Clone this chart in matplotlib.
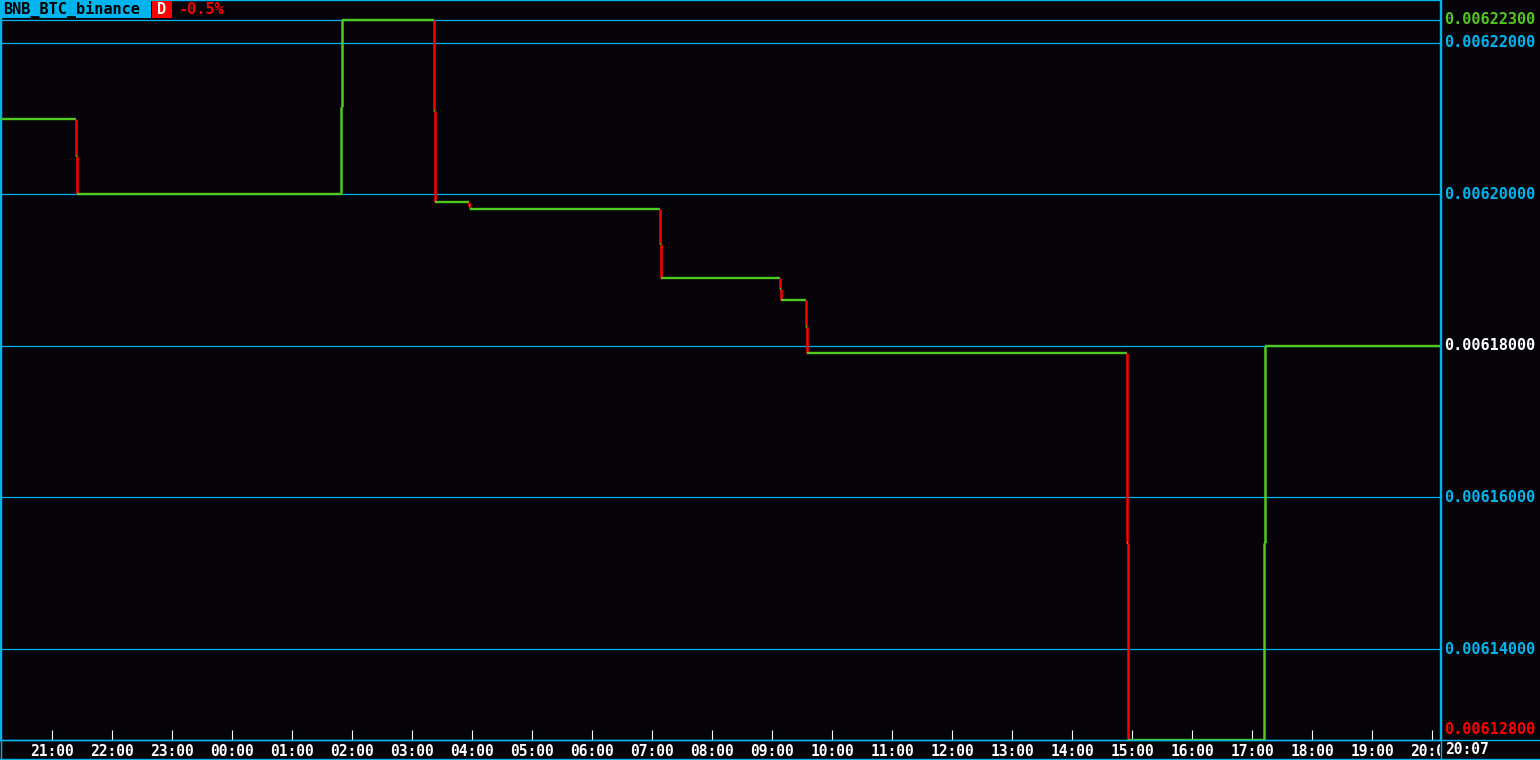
import pandas as pd
import matplotlib
matplotlib.use("Agg")
import matplotlib.pyplot as plt
import matplotlib.dates as mdates
from matplotlib.patches import Rectangle
from matplotlib.lines import Line2D
from matplotlib.transforms import Bbox

# price change points (time, price after the change)
times = ["2018-01-09 20:08", "2018-01-09 21:24", "2018-01-09 21:25",
         "2018-01-10 01:49", "2018-01-10 01:50", "2018-01-10 03:22",
         "2018-01-10 03:23", "2018-01-10 03:57", "2018-01-10 03:58",
         "2018-01-10 07:08", "2018-01-10 07:09", "2018-01-10 09:08",
         "2018-01-10 09:09", "2018-01-10 09:34", "2018-01-10 09:35",
         "2018-01-10 14:55", "2018-01-10 14:56", "2018-01-10 17:12",
         "2018-01-10 17:13", "2018-01-10 20:08"]
prices = [0.006210, 0.006205, 0.006200,
          0.0062115, 0.006223, 0.006211,
          0.006199, 0.0061985, 0.006198,
          0.0061935, 0.006189, 0.0061875,
          0.006186, 0.0061825, 0.006179,
          0.006154, 0.006128, 0.006154,
          0.006180, 0.006180]

grid_levels = [0.00622, 0.00620, 0.00618, 0.00616, 0.00614]
price_max = 0.006223
price_min = 0.006128
price_last = 0.006180
symbol = "BNB_BTC_binance"
change = "-0.5%"
last_time = "20:07"

BG = "#060408"
CYAN = "#00b4f0"
GREEN = "#50c81e"
RED = "#ff0000"
W, H = 1540, 760
MONO = "DejaVu Sans Mono"

t = pd.to_datetime(times)
x = mdates.date2num(t)

fig = plt.figure(figsize=(W / 100, H / 100), dpi=100, facecolor=BG)
ax = fig.add_axes([0, 20 / H, 1440 / W, 740 / H])
ax.set_facecolor(BG)

# grid / level lines
for lv in grid_levels + [price_max]:
    ax.axhline(lv, color=CYAN, lw=0.9, zorder=1)

# step line: horizontals green, verticals red (down) / green (up)
for i in range(len(x) - 1):
    ax.plot([x[i], x[i + 1]], [prices[i], prices[i]], color=GREEN, lw=1.7,
            solid_capstyle="butt", zorder=3)
    if prices[i + 1] != prices[i]:
        c = RED if prices[i + 1] < prices[i] else GREEN
        ax.plot([x[i + 1], x[i + 1]], [prices[i], prices[i + 1]], color=c,
                lw=1.8, solid_capstyle="butt", zorder=3)

ax.set_xlim(x[0], x[-1])
ax.set_ylim(price_min, price_min + 740 / 720 * (price_max - price_min))

ax.xaxis.set_major_locator(mdates.HourLocator())
ax.xaxis.set_major_formatter(mdates.DateFormatter("%H:%M"))
ax.tick_params(axis="x", direction="in", length=7, width=0.8, color="white",
               labelcolor="white", labelsize=10.5, pad=3)
ax.set_yticks([])
for s in ax.spines.values():
    s.set_color(CYAN)
    s.set_linewidth(1.0)

fig.canvas.draw()
clip = Bbox.from_extents(0, 0, 1440, H)
for lab in ax.get_xticklabels():
    lab.set_fontfamily(MONO)
    lab.set_fontweight("bold")
    lab.set_clip_box(clip)
    lab.set_clip_on(True)

# right-side price labels
def px_y(v):
    y0, y1 = ax.get_ylim()
    return 20 + (v - y0) / (y1 - y0) * 740

lab_x = 1444 / W
fig.text(lab_x, px_y(price_max) / H, f"{price_max:.8f}", color=GREEN,
         fontsize=11, family=MONO, weight="bold", va="center")
for lv in grid_levels:
    col = "white" if lv == price_last else CYAN
    fig.text(lab_x, px_y(lv) / H, f"{lv:.8f}", color=col,
             fontsize=11, family=MONO, weight="bold", va="center")
fig.text(lab_x, 30 / H, f"{price_min:.8f}", color=RED,
         fontsize=11, family=MONO, weight="bold", va="center")

# last time label in the corner
fig.add_artist(Rectangle((1441 / W, 1 / H), 99 / W, 18.5 / H, transform=fig.transFigure,
                         fc=BG, ec="none", zorder=4))
fig.text(1445 / W, 10 / H, last_time, color="white", fontsize=10.5,
         family=MONO, weight="bold", va="center", zorder=5)

# frame lines
fig.add_artist(Line2D([1440.5 / W, 1440.5 / W], [0, 1], color=CYAN, lw=1.0, zorder=6))
fig.add_artist(Line2D([0, 1], [20 / H, 20 / H], color=CYAN, lw=1.0, zorder=6))
fig.add_artist(Line2D([0, 1], [0.6 / H, 0.6 / H], color=CYAN, lw=1.0, zorder=6))
fig.add_artist(Line2D([0.6 / W, 0.6 / W], [0, 1], color=CYAN, lw=1.0, zorder=6))

# title bar
fig.add_artist(Rectangle((0, 742 / H), 151 / W, 18 / H, transform=fig.transFigure,
                         fc=CYAN, ec="none", zorder=7))
fig.text(3 / W, 751 / H, symbol, color="black", fontsize=11,
         family=MONO, weight="bold", va="center", zorder=8)
fig.add_artist(Rectangle((152 / W, 742 / H), 20 / W, 17 / H, transform=fig.transFigure,
                         fc=RED, ec="none", zorder=7))
fig.text(162 / W, 751 / H, "D", color="white", fontsize=11,
         family=MONO, weight="bold", va="center", ha="center", zorder=8)
fig.text(179 / W, 751 / H, change, color=RED, fontsize=11,
         family=MONO, weight="bold", va="center", zorder=8)

fig.savefig("out.png", dpi=100, facecolor=BG)
